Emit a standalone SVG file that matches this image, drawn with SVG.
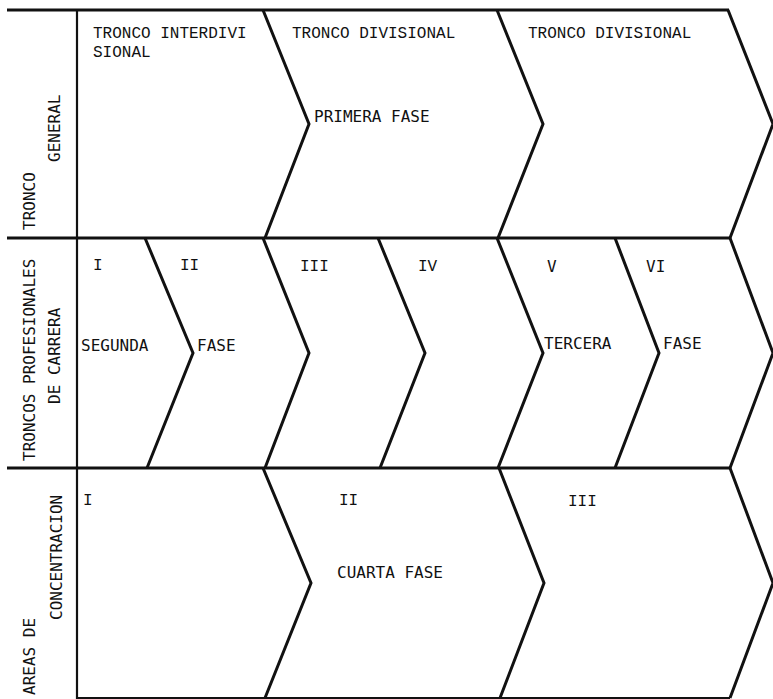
<svg xmlns="http://www.w3.org/2000/svg" width="773" height="699" viewBox="0 0 773 699">
<style>
.ln{fill:none;stroke:#111;stroke-width:3;stroke-linejoin:miter}
.thin{fill:none;stroke:#111;stroke-width:2.2}
.s{font-family:"DejaVu Sans Mono","Liberation Mono",monospace;font-size:16px;fill:#111}
.m{font-family:"Liberation Mono","Courier New",monospace;font-size:16px;fill:#111}
</style>
<rect width="773" height="699" fill="#fff"/>
<g id="grid">
<line class="ln" x1="7" y1="10" x2="729" y2="10"/>
<line class="ln" x1="7" y1="238" x2="730" y2="238"/>
<line class="ln" x1="7" y1="468" x2="730" y2="468"/>
<line class="thin" x1="77" y1="698" x2="730" y2="698"/>
<line class="thin" x1="77" y1="10" x2="77" y2="699"/>
<polyline class="ln" points="263,10 309,124 265,238"/>
<polyline class="ln" points="497,10 543,124 498,238"/>
<polyline class="ln" points="728,10 773,124 730,238"/>
<polyline class="ln" points="145,238 193,353 147,468"/>
<polyline class="ln" points="263,238 309,353 265,468"/>
<polyline class="ln" points="378,238 425,353 380,468"/>
<polyline class="ln" points="497,238 543,353 498,468"/>
<polyline class="ln" points="615,238 659,353 615,468"/>
<polyline class="ln" points="730,238 773,353 730,468"/>
<polyline class="ln" points="263,468 311,583 265,698"/>
<polyline class="ln" points="499,468 544,583 500,698"/>
<polyline class="ln" points="730,468 773,583 730,698"/>
</g>
<g id="row-label-1">
<text class="s" transform="translate(35,230) rotate(-90)">TRONCO</text>
<text class="s" transform="translate(60,162) rotate(-90)">GENERAL</text>
</g>
<g id="row-label-2">
<text class="s" transform="translate(35,461) rotate(-90)">TRONCOS PROFESIONALES</text>
<text class="s" transform="translate(60,404) rotate(-90)">DE CARRERA</text>
</g>
<g id="row-label-3">
<text class="s" transform="translate(35,695) rotate(-90)">AREAS DE</text>
<text class="s" transform="translate(62,620) rotate(-90)">CONCENTRACION</text>
</g>
<g id="tronco-interdivisional">
<text class="m" x="93" y="38">TRONCO INTERDIVI</text>
<text class="m" x="93" y="57">SIONAL</text>
</g>
<g id="tronco-divisional-1">
<text class="m" x="292" y="38">TRONCO DIVISIONAL</text>
<text class="s" x="314" y="122">PRIMERA FASE</text>
</g>
<g id="tronco-divisional-2">
<text class="m" x="528" y="38">TRONCO DIVISIONAL</text>
</g>
<g id="tp-I">
<text class="m" x="93" y="270">I</text>
<text class="s" x="81" y="351">SEGUNDA</text>
</g>
<g id="tp-II">
<text class="m" x="180" y="270">II</text>
<text class="s" x="197" y="351">FASE</text>
</g>
<g id="tp-III">
<text class="m" x="300" y="271">III</text>
</g>
<g id="tp-IV">
<text class="m" x="418" y="271">IV</text>
</g>
<g id="tp-V">
<text class="s" x="547" y="272">V</text>
<text class="s" x="544" y="349">TERCERA</text>
</g>
<g id="tp-VI">
<text class="s" x="646" y="272">VI</text>
<text class="s" x="663" y="349">FASE</text>
</g>
<g id="ac-I">
<text class="m" x="83" y="505">I</text>
</g>
<g id="ac-II">
<text class="m" x="339" y="505">II</text>
<text class="s" x="337" y="578">CUARTA FASE</text>
</g>
<g id="ac-III">
<text class="m" x="568" y="506">III</text>
</g>
</svg>
